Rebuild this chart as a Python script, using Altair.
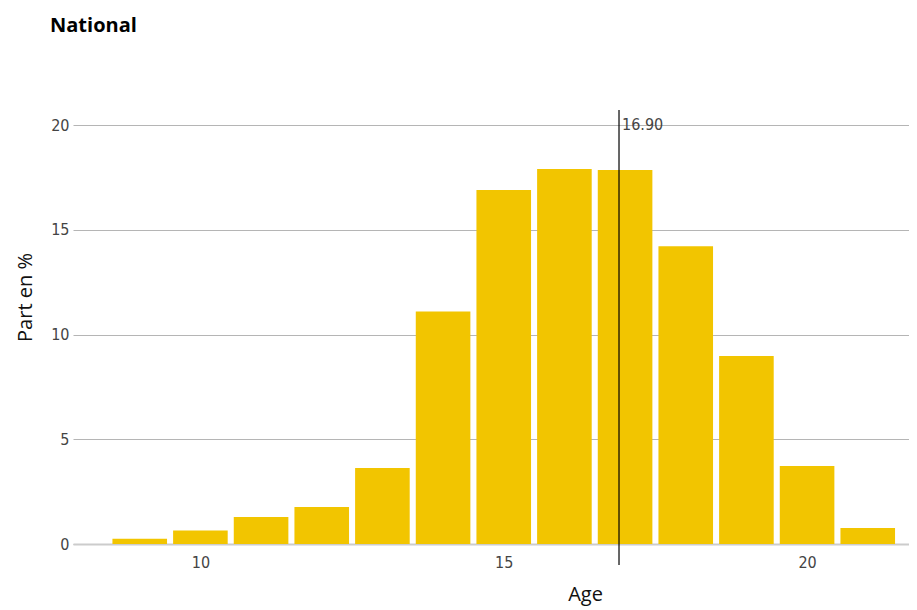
import altair as alt
import pandas as pd

ages = [9, 10, 11, 12, 13, 14, 15, 16, 17, 18, 19, 20, 21]
shares = [0.25, 0.65, 1.29, 1.77, 3.63, 11.1, 16.9, 17.9, 17.86, 14.22, 8.97, 3.72, 0.76]
mean_age = 16.90
x_ticks = [10, 15, 20]
y_ticks = [0, 5, 10, 15, 20]

half = 0.45
bars_df = pd.DataFrame({
    "age": ages,
    "share": shares,
    "x0": [a - half for a in ages],
    "x1": [a + half for a in ages],
})
rule_df = pd.DataFrame({"x": [mean_age], "y0": [-1.0], "y1": [20.72], "label": [f"{mean_age:.2f}"], "ty": [20]})

num_font = "Liberation Sans Narrow, DejaVu Sans Condensed, Roboto"
title_font = "Open Sans, Noto Sans, sans-serif"

xscale = alt.Scale(domain=[7.9, 21.68], nice=False, zero=False)
yscale = alt.Scale(domain=[0, 20.72], nice=False)

bars = alt.Chart(bars_df).mark_bar(color="#F2C500", clip=True).encode(
    x=alt.X("x0:Q", scale=xscale, axis=alt.Axis(
        values=x_ticks, format="d", title="Age", grid=False, ticks=False,
        labelFont=num_font, labelFontSize=16, labelColor="#444444", labelPadding=10,
        domainColor="#cccccc", domainWidth=2,
        titleFont=title_font, titleFontSize=20, titleFontWeight="normal", titleColor="#111111",
        titleX=512, titleY=50, titleBaseline="middle", titleAlign="center")),
    x2="x1:Q",
    y=alt.Y("share:Q", scale=yscale, axis=alt.Axis(
        values=y_ticks, format="d", title="Part en %", grid=True, gridColor="#b5b5b5", gridWidth=1,
        ticks=False, domain=False,
        labelFont=num_font, labelFontSize=16, labelColor="#444444", labelPadding=4,
        titleFont=title_font, titleFontSize=20, titleFontWeight="normal", titleColor="#111111",
        titleX=-48, titleY=187, titleBaseline="middle", titleAlign="center", titleAngle=-90)),
    y2=alt.datum(0),
)

rule = alt.Chart(rule_df).mark_rule(color="#000000", strokeWidth=1.2).encode(
    x=alt.X("x:Q", scale=xscale),
    y=alt.Y("y0:Q", scale=yscale),
    y2="y1:Q",
)

label = alt.Chart(rule_df).mark_text(
    align="left", baseline="middle", dx=3, font=num_font, fontSize=16, color="#444444"
).encode(
    x=alt.X("x:Q", scale=xscale),
    y=alt.Y("ty:Q", scale=yscale),
    text="label:N",
)

chart = alt.layer(bars, rule, label).properties(
    width=836,
    height=434,
    title=alt.TitleParams("National", anchor="start", frame="group", dx=-23, offset=73,
                          font=title_font, fontSize=20, fontWeight="bold", color="#000000"),
    autosize=alt.AutoSizeParams(type="none"),
    padding={"left": 65, "top": 102, "right": 0, "bottom": 62},
).configure_view(stroke=None)

chart.save("out.html", embed_options={"renderer": "svg", "actions": False})
